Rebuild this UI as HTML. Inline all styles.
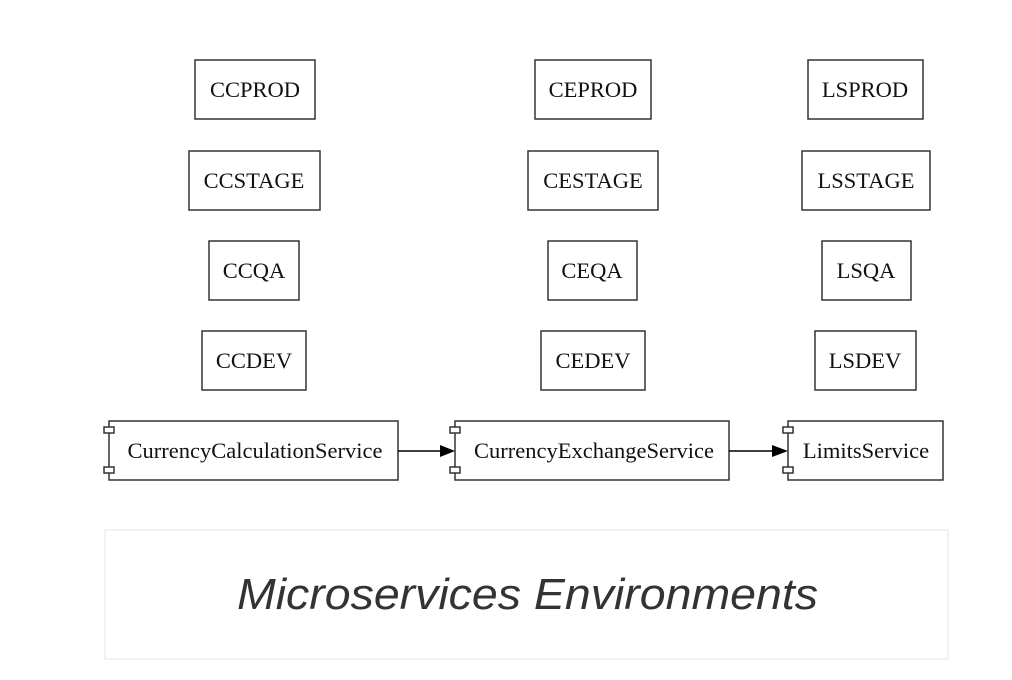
<!DOCTYPE html>
<html><head><style>body{margin:0;background:#fff}svg{display:block}</style></head><body>
<svg width="1012" height="680" xmlns="http://www.w3.org/2000/svg">
<rect width="1012" height="680" fill="#fff"/>
<g fill="#fff" stroke="#333" stroke-width="1.5">
<rect x="195" y="60" width="120" height="59"/><rect x="535" y="60" width="116" height="59"/><rect x="808" y="60" width="115" height="59"/>
<rect x="189" y="151" width="131" height="59"/><rect x="528" y="151" width="130" height="59"/><rect x="802" y="151" width="128" height="59"/>
<rect x="209" y="241" width="90" height="59"/><rect x="548" y="241" width="89" height="59"/><rect x="822" y="241" width="89" height="59"/>
<rect x="202" y="331" width="104" height="59"/><rect x="541" y="331" width="104" height="59"/><rect x="815" y="331" width="101" height="59"/>
<rect x="109" y="421" width="289" height="59"/><rect x="455" y="421" width="274" height="59"/><rect x="788" y="421" width="155" height="59"/>
<rect x="104" y="427" width="10" height="6"/><rect x="104" y="467" width="10" height="6"/>
<rect x="450" y="427" width="10" height="6"/><rect x="450" y="467" width="10" height="6"/>
<rect x="783" y="427" width="10" height="6"/><rect x="783" y="467" width="10" height="6"/>
</g>
<g stroke="#000" stroke-width="1.5"><line x1="398" y1="451" x2="440" y2="451"/><line x1="729" y1="451" x2="772" y2="451"/></g>
<polygon points="440,445 455,451 440,457" fill="#000"/><polygon points="772,445 788,451 772,457" fill="#000"/>
<g font-family="Liberation Serif, serif" font-size="22.5" fill="#111" text-anchor="middle">
<text x="255" y="97">CCPROD</text><text x="593" y="97">CEPROD</text><text x="865" y="97">LSPROD</text>
<text x="254" y="188">CCSTAGE</text><text x="593" y="188">CESTAGE</text><text x="866" y="188">LSSTAGE</text>
<text x="254" y="278">CCQA</text><text x="592" y="278">CEQA</text><text x="866" y="278">LSQA</text>
<text x="254" y="368">CCDEV</text><text x="593" y="368">CEDEV</text><text x="865" y="368">LSDEV</text>
<text x="255" y="458">CurrencyCalculationService</text><text x="594" y="458">CurrencyExchangeService</text><text x="866" y="458">LimitsService</text>
</g>
<rect x="105" y="530" width="843" height="129" fill="#fff" stroke="#eee" stroke-width="1.5"/>
<text x="237" y="609" font-family="Liberation Sans, sans-serif" font-style="italic" font-size="44" fill="#333" textLength="581" lengthAdjust="spacingAndGlyphs">Microservices Environments</text>
</svg>
</body></html>
